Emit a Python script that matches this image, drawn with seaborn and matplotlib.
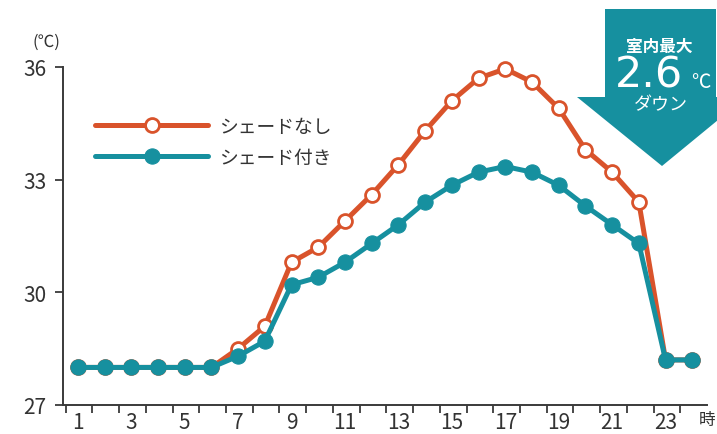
import numpy as np
import pandas as pd
import matplotlib.pyplot as plt
import seaborn as sns
from matplotlib.patches import Polygon

# 時刻と室温データ
hours = list(range(1, 25))
no_shade = [28.0, 28.0, 28.0, 28.0, 28.0, 28.0, 28.5, 29.1, 30.8, 31.2, 31.9, 32.6,
            33.4, 34.3, 35.1, 35.7, 35.95, 35.6, 34.9, 33.8, 33.2, 32.4, 28.2, 28.2]
with_shade = [28.0, 28.0, 28.0, 28.0, 28.0, 28.0, 28.3, 28.7, 30.2, 30.4, 30.8, 31.3,
              31.8, 32.4, 32.85, 33.2, 33.35, 33.2, 32.85, 32.3, 31.8, 31.3, 28.2, 28.2]
series_names = ['シェードなし', 'シェード付き']
y_ticks = [27, 30, 33, 36]
x_tick_pos = [1, 3, 5, 7, 9, 11, 13, 15, 17, 19, 21, 23, 24.55]
x_tick_labels = ['1', '3', '5', '7', '9', '11', '13', '15', '17', '19', '21', '23', '時']

ORANGE = '#D9532B'
TEAL = '#16909F'
AXIS = '#3A3A3A'

sns.set_theme(style='white')
plt.rcParams['font.family'] = ['Noto Sans CJK JP', 'DejaVu Sans']

df = pd.DataFrame({'時刻': hours, series_names[0]: no_shade, series_names[1]: with_shade})

fig = plt.figure(figsize=(7.17, 4.35), dpi=100, facecolor='white')
ax = fig.add_axes([0.088, 0.0667, 0.898, 0.777])

sns.lineplot(data=df, x='時刻', y=series_names[0], ax=ax, color=ORANGE, linewidth=3.6,
             marker='o', markersize=10, markerfacecolor='white', markeredgecolor=ORANGE,
             markeredgewidth=2, label=series_names[0], clip_on=False, zorder=3)
sns.lineplot(data=df, x='時刻', y=series_names[1], ax=ax, color=TEAL, linewidth=3.6,
             marker='o', markersize=11, markerfacecolor=TEAL, markeredgecolor=TEAL,
             label=series_names[1], clip_on=False, zorder=4)

ax.set_xlim(0.45, 24.5)
ax.set_ylim(27, 36)
ax.set_xlabel('')
ax.set_ylabel('')

ax.set_yticks(y_ticks)
ax.set_yticklabels([str(v) for v in y_ticks], fontsize=15, color='#333333')
ax.tick_params(axis='y', direction='out', length=6, width=1.3, color=AXIS, pad=6, left=True)

ax.set_xticks(x_tick_pos)
ax.set_xticklabels(x_tick_labels, fontsize=15, color='#333333')
ax.set_xticks(np.arange(0.55, 25, 1), minor=True)
ax.tick_params(axis='x', which='major', length=0, pad=4)
ax.tick_params(axis='x', which='minor', direction='out', length=6, width=1.3, color=AXIS, bottom=True)
ax.get_xticklabels()[-1].set_fontsize(12)

for side in ['top', 'right']:
    ax.spines[side].set_visible(False)
for side in ['left', 'bottom']:
    ax.spines[side].set_color(AXIS)
    ax.spines[side].set_linewidth(1.4)

leg = ax.legend(loc='upper left', bbox_to_anchor=(0.024, 0.906), frameon=False, fontsize=13.5,
                handlelength=6, handletextpad=0.6, labelspacing=0.55)
for t in leg.get_texts():
    t.set_color('#333333')

fig.text(46 / 717, 1 - 42 / 435, '(℃)', fontsize=12, color='#333333', ha='center', va='center')

# 右上の矢印
W, H = 717, 435
arrow_px = [(605, 10), (716, 10), (716, 98), (746, 98), (662, 167), (577, 98), (605, 98)]
arrow = Polygon([(x / W, 1 - y / H) for x, y in arrow_px], closed=True,
                transform=fig.transFigure, facecolor=TEAL, edgecolor='none', clip_on=False)
fig.patches.append(arrow)
fig.text(659 / W, 1 - 52 / H, '室内最大', fontsize=12, color='white', ha='center', va='baseline',
         fontweight='bold')
fig.text(649 / W, 1 - 88 / H, '2.6', fontsize=31, color='white', ha='center', va='baseline',
         family='DejaVu Sans')
fig.text(701 / W, 1 - 88 / H, '℃', fontsize=14, color='white', ha='center', va='baseline')
fig.text(661 / W, 1 - 110 / H, 'ダウン', fontsize=13, color='white', ha='center', va='baseline')

plt.savefig('out.png', dpi=100, facecolor='white')
